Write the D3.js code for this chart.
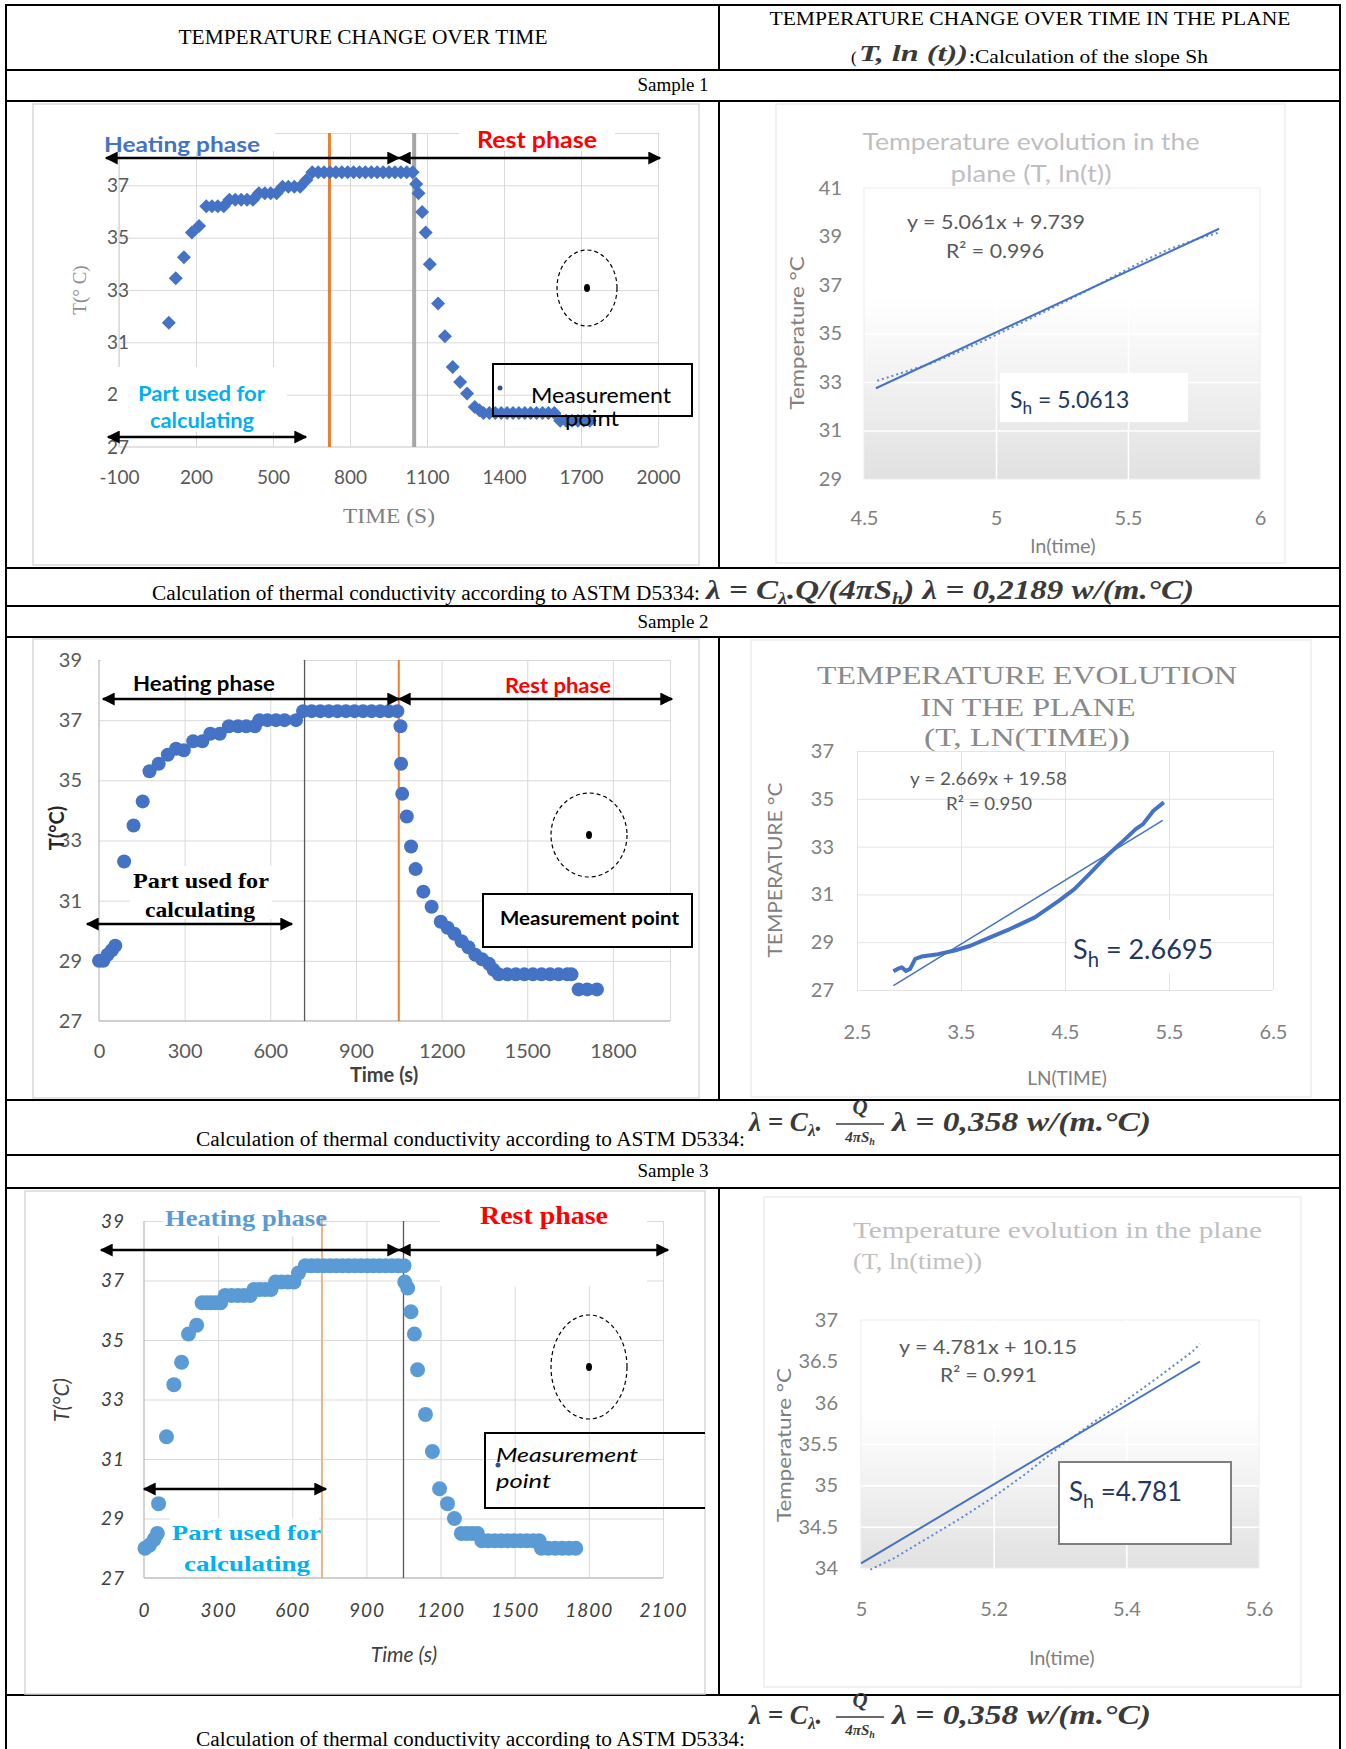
<!DOCTYPE html>
<html>
<head>
<meta charset="utf-8">
<script src="https://cdn.jsdelivr.net/npm/d3@7"></script>
<style>
  body { margin: 0; background: #fff; }
  svg { display: block; }
</style>
</head>
<body>
<script>
// ---------- data ----------
// Sample 1: temperature vs time (diamonds)
var s1Time = [94, 121, 153, 184, 212, 240, 262, 285, 308, 330, 353, 376, 399, 422, 445, 468, 491, 514,
  537, 560, 583, 606, 630, 653, 676, 699, 722, 745, 768, 791, 814, 837, 860, 883, 906, 929, 952, 975,
  998, 1021, 1044, 1058, 1067, 1081, 1095, 1111, 1143, 1170, 1200, 1229, 1256, 1286, 1304, 1320, 1343,
  1366, 1389, 1412, 1435, 1458, 1481, 1504, 1527, 1550, 1573, 1596, 1619, 1642, 1665, 1688, 1711, 1734];
var s1Temp = [31.75, 33.45, 34.25, 35.2, 35.45, 36.2, 36.2, 36.2, 36.2, 36.45, 36.45, 36.45, 36.45, 36.45,
  36.7, 36.7, 36.7, 36.7, 36.95, 36.95, 36.95, 36.95, 37.2, 37.5, 37.5, 37.5, 37.5, 37.5, 37.5, 37.5,
  37.5, 37.5, 37.5, 37.5, 37.5, 37.5, 37.5, 37.5, 37.5, 37.5, 37.5, 37.05, 36.7, 35.98, 35.2, 33.98,
  32.48, 31.23, 30.06, 29.48, 29.04, 28.53, 28.4, 28.3, 28.3, 28.3, 28.3, 28.3, 28.3, 28.3, 28.3, 28.3,
  28.3, 28.3, 28.3, 28.3, 28.0, 28.0, 28.0, 28.0, 28.0, 28.0];
var s1Phase = [720, 1050];
var s1XTicks = [-100, 200, 500, 800, 1100, 1400, 1700, 2000];
var s1YTicks = [27, 29, 31, 33, 35, 37, 39];
var s1YLabels = [27, 29, 31, 33, 35, 37];   // 39 is hidden behind the title box in the original

// Sample 1: T vs ln(t)
var s1LnTime = [4.55, 4.65, 4.75, 4.85, 4.95, 5.05, 5.15, 5.25, 5.35, 5.45, 5.55, 5.65, 5.75, 5.84];
var s1LnTemp = [33.05, 33.4, 33.75, 34.2, 34.68, 35.2, 35.72, 36.25, 36.8, 37.38, 37.95, 38.45, 38.85, 39.15];
var s1Fit = [5.061, 9.739];          // slope, intercept
var s1FitRange = [4.545, 5.845];
var s1LnXTicks = [4.5, 5, 5.5, 6];
var s1LnYTicks = [29, 31, 33, 35, 37, 39, 41];

// Sample 2: temperature vs time (circles)
var s2Time = [0, 15, 30, 45, 57, 88, 121, 153, 177, 209, 241, 270, 297, 330, 362, 390, 423, 455, 487, 516,
  546, 562, 590, 620, 650, 690, 715, 745, 775, 805, 835, 865, 895, 925, 955, 985, 1015, 1045, 1056, 1058,
  1062, 1078, 1093, 1109, 1136, 1165, 1197, 1221, 1245, 1270, 1294, 1318, 1342, 1366, 1382, 1400, 1430,
  1460, 1490, 1520, 1550, 1580, 1610, 1640, 1655, 1680, 1710, 1744];
var s2Temp = [29.0, 29.0, 29.2, 29.35, 29.5, 32.3, 33.5, 34.3, 35.3, 35.55, 35.85, 36.05, 36.0, 36.3, 36.3,
  36.55, 36.55, 36.8, 36.8, 36.8, 36.8, 37.0, 37.0, 37.0, 37.0, 37.0, 37.3, 37.3, 37.3, 37.3, 37.3, 37.3,
  37.3, 37.3, 37.3, 37.3, 37.3, 37.3, 36.8, 35.55, 34.55, 33.8, 32.8, 32.05, 31.3, 30.8, 30.3, 30.1, 29.9,
  29.65, 29.45, 29.2, 29.05, 28.9, 28.7, 28.55, 28.55, 28.55, 28.55, 28.55, 28.55, 28.55, 28.55, 28.55,
  28.55, 28.05, 28.05, 28.05];
var s2Phase = [720, 1050];
var s2XTicks = [0, 300, 600, 900, 1200, 1500, 1800];
var s2YTicks = [27, 29, 31, 33, 35, 37, 39];

// Sample 2: T vs ln(t)
var s2LnTime = [2.85, 2.89, 2.93, 2.97, 3.01, 3.06, 3.12, 3.28, 3.43, 3.59, 3.74, 3.97, 4.21, 4.44, 4.59,
  4.75, 4.90, 5.06, 5.18, 5.25, 5.35, 5.45];
var s2LnTemp = [27.78, 27.88, 27.95, 27.8, 27.88, 28.3, 28.4, 28.5, 28.64, 28.85, 29.13, 29.55, 30.04,
  30.73, 31.22, 31.92, 32.61, 33.24, 33.73, 33.94, 34.5, 34.85];
var s2Fit = [2.669, 19.58];
var s2FitRange = [2.85, 5.44];
var s2LnXTicks = [2.5, 3.5, 4.5, 5.5, 6.5];
var s2LnYTicks = [27, 29, 31, 33, 35, 37];

// Sample 3: temperature vs time (circles)
var s3Time = [4, 22, 41, 54, 59, 91, 121, 152, 180, 213, 235, 254, 272, 291, 310, 328, 354, 380, 405, 430,
  445, 468, 491, 514, 532, 557, 582, 607, 625, 653, 678, 703, 728, 753, 778, 803, 828, 853, 878, 903, 928,
  953, 978, 1003, 1028, 1052, 1055, 1067, 1080, 1094, 1107, 1139, 1167, 1196, 1228, 1256, 1284, 1306,
  1328, 1349, 1367, 1393, 1419, 1445, 1471, 1497, 1523, 1549, 1575, 1599, 1608, 1636, 1664, 1692, 1720, 1747];
var s3Temp = [28.0, 28.1, 28.3, 28.5, 29.5, 31.75, 33.5, 34.25, 35.2, 35.5, 36.25, 36.25, 36.25, 36.25,
  36.25, 36.5, 36.5, 36.5, 36.5, 36.5, 36.7, 36.7, 36.7, 36.7, 36.95, 36.95, 36.95, 36.95, 37.25, 37.5,
  37.5, 37.5, 37.5, 37.5, 37.5, 37.5, 37.5, 37.5, 37.5, 37.5, 37.5, 37.5, 37.5, 37.5, 37.5, 37.5, 36.95,
  36.75, 35.95, 35.2, 34.0, 32.5, 31.25, 30.0, 29.5, 29.0, 28.5, 28.5, 28.5, 28.5, 28.25, 28.25, 28.25,
  28.25, 28.25, 28.25, 28.25, 28.25, 28.25, 28.25, 28.0, 28.0, 28.0, 28.0, 28.0, 28.0];
var s3Phase = [720, 1050];
var s3XTicks = [0, 300, 600, 900, 1200, 1500, 1800, 2100];
var s3YTicks = [27, 29, 31, 33, 35, 37, 39];

// Sample 3: T vs ln(t)
var s3LnTime = [5.014, 5.05, 5.1, 5.15, 5.2, 5.25, 5.3, 5.35, 5.4, 5.45, 5.5, 5.511];
var s3LnTemp = [33.98, 34.12, 34.36, 34.6, 34.86, 35.15, 35.47, 35.76, 36.03, 36.32, 36.62, 36.71];
var s3Fit = [4.781, 10.15];
var s3FitRange = [5.0, 5.511];
var s3LnXTicks = [5, 5.2, 5.4, 5.6];
var s3LnYTicks = [34, 34.5, 35, 35.5, 36, 36.5, 37];

// ---------- drawing ----------
var SANS = "Lato, 'Open Sans', 'DejaVu Sans', sans-serif";
var SERIF = "'Liberation Serif', 'Times New Roman', serif";

var svg = d3.select('body').append('svg').attr('width', 1346).attr('height', 1749);
svg.append('rect').attr('width', 1346).attr('height', 1749).attr('fill', '#fff');

var defs = svg.append('defs');
defs.append('marker')
    .attr('id', 'ah')
    .attr('viewBox', '0 0 10 10')
    .attr('refX', 9).attr('refY', 5)
    .attr('markerWidth', 14).attr('markerHeight', 13)
    .attr('markerUnits', 'userSpaceOnUse')
    .attr('orient', 'auto-start-reverse')
  .append('path').attr('d', 'M0,0L10,5L0,10z').attr('fill', '#000');

var grad = defs.append('linearGradient').attr('id', 'plotFill')
    .attr('x1', 0).attr('y1', 0).attr('x2', 0).attr('y2', 1);
grad.append('stop').attr('offset', '0%').attr('stop-color', '#ffffff');
grad.append('stop').attr('offset', '38%').attr('stop-color', '#ffffff');
grad.append('stop').attr('offset', '100%').attr('stop-color', '#e1e1e1');

function addText(g, o) {
  var t = g.append('text')
      .attr('x', o.x).attr('y', o.y)
      .attr('font-family', o.font || SANS)
      .attr('font-size', o.fs)
      .attr('font-weight', o.bold ? 'bold' : 'normal')
      .attr('font-style', o.italic ? 'italic' : 'normal')
      .attr('fill', o.fill || '#000')
      .attr('text-anchor', o.anchor || 'start')
      .text(o.t);
  if (o.len) t.attr('textLength', o.len).attr('lengthAdjust', 'spacingAndGlyphs');
  if (o.rotate) t.attr('transform', 'rotate(-90,' + o.x + ',' + o.y + ')');
  return t;
}

function styleGrid(sel, color, w) {
  sel.select('.domain').remove();
  sel.selectAll('.tick line').attr('stroke', color).attr('stroke-width', w);
}

function styleLabels(sel, o) {
  sel.select('.domain').remove();
  sel.selectAll('text')
      .attr('font-family', o.font || SANS)
      .attr('font-size', o.fs)
      .attr('font-style', o.italic ? 'italic' : 'normal')
      .attr('letter-spacing', o.ls || 0)
      .attr('fill', o.fill);
}

function arrow(g, a) {
  g.append('line')
      .attr('x1', a[0]).attr('x2', a[1]).attr('y1', a[2]).attr('y2', a[2])
      .attr('stroke', '#000').attr('stroke-width', 2.5)
      .attr('marker-start', 'url(#ah)').attr('marker-end', 'url(#ah)');
}

function leftChart(c) {
  var g = svg.append('g');
  g.append('rect')
      .attr('x', c.panel[0]).attr('y', c.panel[1]).attr('width', c.panel[2]).attr('height', c.panel[3])
      .attr('fill', '#fff').attr('stroke', '#d9d9d9').attr('stroke-width', 1.5);

  var x = d3.scaleLinear().domain(c.xDomain).range(c.xRange);
  var y = d3.scaleLinear().domain(c.yDomain).range(c.yRange);
  var x0 = c.xRange[0], x1 = c.xRange[1], yb = c.yRange[0], yt = c.yRange[1];

  g.append('g').attr('transform', 'translate(0,' + yb + ')')
      .call(d3.axisBottom(x).tickValues(c.xGrid).tickSize(yt - yb).tickFormat(''))
      .call(styleGrid, '#d9d9d9', 1);
  g.append('g').attr('transform', 'translate(' + x0 + ',0)')
      .call(d3.axisLeft(y).tickValues(c.yGrid).tickSize(x0 - x1).tickFormat(''))
      .call(styleGrid, '#d9d9d9', 1);

  g.append('line').attr('x1', x0).attr('x2', x0).attr('y1', yt).attr('y2', yb)
      .attr('stroke', c.axisColor).attr('stroke-width', 1.3);
  g.append('line').attr('x1', x0).attr('x2', x1).attr('y1', yb).attr('y2', yb)
      .attr('stroke', c.axisColor).attr('stroke-width', 1.3);

  c.phaseStyle.forEach(function(p, i) {
    g.append('line')
        .attr('x1', x(c.phase[i])).attr('x2', x(c.phase[i]))
        .attr('y1', p.top || yt).attr('y2', yb)
        .attr('stroke', p.color).attr('stroke-width', p.w);
  });

  // tick labels
  g.append('g').attr('transform', 'translate(' + c.yLab.x + ',0)')
      .call(d3.axisLeft(y).tickValues(c.yTicks).tickSize(0).tickPadding(0).tickFormat(String))
      .call(styleLabels, c.yLab);
  g.append('g').attr('transform', 'translate(0,' + (c.xLab.y - 0.36 * c.xLab.fs) + ')')
      .call(d3.axisBottom(x).tickValues(c.xTicks).tickSize(0).tickPadding(0).tickFormat(String))
      .call(styleLabels, c.xLab);

  // white text boxes of the original figure
  c.boxes.forEach(function(b) {
    g.append('rect').attr('x', b[0]).attr('y', b[1]).attr('width', b[2]).attr('height', b[3]).attr('fill', '#fff');
  });

  var pts = c.time.map(function(t, i) { return [t, c.temp[i]]; });
  if (c.marker === 'diamond') {
    g.selectAll(null).data(pts).enter().append('path')
        .attr('d', 'M0,-7L7,0L0,7L-7,0Z')
        .attr('transform', function(d) { return 'translate(' + x(d[0]) + ',' + y(d[1]) + ')'; })
        .attr('fill', c.markerColor);
  } else {
    g.selectAll(null).data(pts).enter().append('circle')
        .attr('cx', function(d) { return x(d[0]); })
        .attr('cy', function(d) { return y(d[1]); })
        .attr('r', c.r)
        .attr('fill', c.markerColor);
  }

  c.arrows.forEach(function(a) { arrow(g, a); });

  var m = c.mbox;
  if (c.mboxOpen) {
    // box runs off the right edge of the panel in the original
    g.append('path')
        .attr('d', 'M' + (m[0] + m[2]) + ',' + m[1] + 'H' + m[0] + 'V' + (m[1] + m[3]) + 'H' + (m[0] + m[2]))
        .attr('fill', 'none').attr('stroke', '#000').attr('stroke-width', 2);
  } else {
    g.append('rect').attr('x', m[0]).attr('y', m[1]).attr('width', m[2]).attr('height', m[3])
        .attr('fill', c.mboxFill).attr('stroke', '#000').attr('stroke-width', 2);
  }
  if (c.mdot) {
    g.append('circle').attr('cx', c.mdot[0]).attr('cy', c.mdot[1]).attr('r', 2.5).attr('fill', '#2f4f8f');
  }

  var e = c.ellipse;
  g.append('ellipse').attr('cx', e[0]).attr('cy', e[1]).attr('rx', e[2]).attr('ry', e[3])
      .attr('fill', 'none').attr('stroke', '#000').attr('stroke-width', 1.2).attr('stroke-dasharray', '4,3');
  g.append('ellipse').attr('cx', e[0]).attr('cy', e[1]).attr('rx', 3).attr('ry', 4).attr('fill', '#000');

  c.texts.forEach(function(o) { addText(g, o); });
}

function rightChart(c) {
  var g = svg.append('g');
  g.append('rect')
      .attr('x', c.panel[0]).attr('y', c.panel[1]).attr('width', c.panel[2]).attr('height', c.panel[3])
      .attr('fill', '#fff').attr('stroke', '#ededed').attr('stroke-width', 1.5);

  var x = d3.scaleLinear().domain(c.xDomain).range(c.xRange);
  var y = d3.scaleLinear().domain(c.yDomain).range(c.yRange);
  var x0 = c.xRange[0], x1 = c.xRange[1], yb = c.yRange[0], yt = c.yRange[1];

  g.append('rect').attr('x', x0).attr('y', yt).attr('width', x1 - x0).attr('height', yb - yt)
      .attr('fill', c.gradient ? 'url(#plotFill)' : '#fff')
      .attr('stroke', c.gradient ? '#ececec' : 'none');

  g.append('g').attr('transform', 'translate(0,' + yb + ')')
      .call(d3.axisBottom(x).tickValues(c.xGrid).tickSize(yt - yb).tickFormat(''))
      .call(styleGrid, c.gridColor, c.gridW);
  g.append('g').attr('transform', 'translate(' + x0 + ',0)')
      .call(d3.axisLeft(y).tickValues(c.yGrid).tickSize(x0 - x1).tickFormat(''))
      .call(styleGrid, c.gridColor, c.gridW);

  g.append('g').attr('transform', 'translate(' + c.yLab.x + ',0)')
      .call(d3.axisLeft(y).tickValues(c.yTicks).tickSize(0).tickPadding(0).tickFormat(String))
      .call(styleLabels, c.yLab);
  g.append('g').attr('transform', 'translate(0,' + (c.xLab.y - 0.36 * c.xLab.fs) + ')')
      .call(d3.axisBottom(x).tickValues(c.xTicks).tickSize(0).tickPadding(0).tickFormat(String))
      .call(styleLabels, c.xLab);

  var pts = c.lnTime.map(function(t, i) { return [t, c.lnTemp[i]]; });
  var line = d3.line().x(function(d) { return x(d[0]); }).y(function(d) { return y(d[1]); });
  g.append('path').datum(pts)
      .attr('d', line).attr('fill', 'none')
      .attr('stroke', c.dataStyle.color).attr('stroke-width', c.dataStyle.w)
      .attr('stroke-dasharray', c.dataStyle.dash || null)
      .attr('stroke-linejoin', 'round');

  var fitPts = c.fitRange.map(function(v) { return [v, c.fit[0] * v + c.fit[1]]; });
  g.append('path').datum(fitPts)
      .attr('d', line).attr('fill', 'none')
      .attr('stroke', '#4472C4').attr('stroke-width', c.fitW);

  c.texts.forEach(function(o) { addText(g, o); });

  var b = c.shBox;
  g.append('rect').attr('x', b[0]).attr('y', b[1]).attr('width', b[2]).attr('height', b[3])
      .attr('fill', '#fff').attr('stroke', c.shStroke || 'none').attr('stroke-width', 2);
  var sh = g.append('text').attr('x', c.sh.x).attr('y', c.sh.y)
      .attr('font-family', SANS).attr('font-size', c.sh.fs).attr('fill', '#1F3864');
  sh.append('tspan').text('S');
  sh.append('tspan').attr('dy', c.sh.fs * 0.28).attr('font-size', c.sh.fs * 0.75).text('h');
  sh.append('tspan').attr('dy', -c.sh.fs * 0.28).text(c.sh.value);
}

// ---------- table frame ----------
var frame = svg.append('g').attr('stroke', '#000').attr('stroke-width', 2);
[5, 70, 101, 568, 606, 637, 1100, 1155, 1188, 1695].forEach(function(yy) {
  frame.append('line').attr('x1', 5).attr('x2', 1341).attr('y1', yy).attr('y2', yy);
});
frame.append('line').attr('x1', 6).attr('x2', 6).attr('y1', 5).attr('y2', 1749);
frame.append('line').attr('x1', 1340).attr('x2', 1340).attr('y1', 5).attr('y2', 1749);
[[5, 70], [101, 568], [637, 1100], [1188, 1695]].forEach(function(s) {
  frame.append('line').attr('x1', 719).attr('x2', 719).attr('y1', s[0]).attr('y2', s[1]);
});

var hdr = svg.append('g');
addText(hdr, {t: 'TEMPERATURE CHANGE OVER TIME', x: 363, y: 44, fs: 20, font: SERIF, anchor: 'middle', len: 369});
addText(hdr, {t: 'TEMPERATURE CHANGE OVER TIME IN THE PLANE', x: 1030, y: 25, fs: 19, font: SERIF, anchor: 'middle', len: 521});
addText(hdr, {t: '(', x: 851, y: 63, fs: 17, font: SERIF});
addText(hdr, {t: 'T, ln (t))', x: 859, y: 61, fs: 24, font: SERIF, bold: true, italic: true, fill: '#3a3a3a', len: 109});
addText(hdr, {t: ':Calculation of the slope Sh', x: 969, y: 63, fs: 18, font: SERIF, len: 239});
addText(hdr, {t: 'Sample 1', x: 673, y: 91, fs: 19, font: SERIF, anchor: 'middle'});
addText(hdr, {t: 'Sample 2', x: 673, y: 628, fs: 19, font: SERIF, anchor: 'middle'});
addText(hdr, {t: 'Sample 3', x: 673, y: 1177, fs: 19, font: SERIF, anchor: 'middle'});

// formula rows
function formulaInline(g, x, y) {
  var t = g.append('text').attr('x', x).attr('y', y).attr('font-family', SERIF).attr('font-size', 28)
      .attr('font-weight', 'bold').attr('font-style', 'italic').attr('fill', '#3a3a3a')
      .attr('textLength', 488).attr('lengthAdjust', 'spacingAndGlyphs');
  t.append('tspan').text('λ = C');
  t.append('tspan').attr('dy', 5).attr('font-size', 17).text('λ');
  t.append('tspan').attr('dy', -5).text('.Q/(4πS');
  t.append('tspan').attr('dy', 5).attr('font-size', 17).text('h');
  t.append('tspan').attr('dy', -5).text(')  λ = 0,2189 w/(m.°C)');
}
function formulaFrac(g, x, y) {
  var t = g.append('text').attr('x', x).attr('y', y).attr('font-family', SERIF).attr('font-size', 27)
      .attr('font-weight', 'bold').attr('font-style', 'italic').attr('fill', '#3a3a3a');
  t.append('tspan').text('λ = C');
  t.append('tspan').attr('dy', 5).attr('font-size', 17).text('λ');
  t.append('tspan').attr('dy', -5).text('.');
  addText(g, {t: 'Q', x: x + 111, y: y - 17, fs: 21, font: SERIF, bold: true, italic: true, fill: '#3a3a3a', anchor: 'middle'});
  g.append('line').attr('x1', x + 87).attr('x2', x + 135).attr('y1', y - 7).attr('y2', y - 7)
      .attr('stroke', '#3a3a3a').attr('stroke-width', 1.5);
  var d = g.append('text').attr('x', x + 111).attr('y', y + 11).attr('font-family', SERIF).attr('font-size', 15)
      .attr('font-weight', 'bold').attr('font-style', 'italic').attr('fill', '#3a3a3a').attr('text-anchor', 'middle');
  d.append('tspan').text('4πS');
  d.append('tspan').attr('dy', 3).attr('font-size', 10).text('h');
  addText(g, {t: 'λ = 0,358 w/(m.°C)', x: x + 143, y: y, fs: 27, font: SERIF, bold: true, italic: true, fill: '#3a3a3a', len: 259});
}
var calcText = 'Calculation of thermal conductivity according to ASTM D5334:';
addText(hdr, {t: calcText, x: 152, y: 600, fs: 20, font: SERIF, len: 548});
formulaInline(hdr, 706, 599);
addText(hdr, {t: calcText, x: 196, y: 1146, fs: 20, font: SERIF, len: 549});
formulaFrac(hdr, 749, 1131);
addText(hdr, {t: calcText, x: 196, y: 1746, fs: 20, font: SERIF, len: 549});
formulaFrac(hdr, 749, 1724);

// ---------- sample 1 ----------
leftChart({
  panel: [33, 104, 666, 461],
  xDomain: [-100, 2000], xRange: [119, 658],
  yDomain: [27, 39], yRange: [447, 133],
  xTicks: s1XTicks, yTicks: s1YLabels,
  xGrid: s1XTicks, yGrid: s1YTicks.slice(1),
  axisColor: '#d9d9d9',
  phase: s1Phase,
  phaseStyle: [{color: '#ED7D31', w: 3}, {color: '#A5A5A5', w: 4}],
  yLab: {x: 129, fs: 19, fill: '#595959'},
  xLab: {y: 477, fs: 19, fill: '#595959'},
  boxes: [[100, 118, 175, 33], [459, 118, 156, 33], [118, 367, 169, 65]],
  time: s1Time, temp: s1Temp, marker: 'diamond', markerColor: '#4472C4',
  arrows: [[106, 399, 158], [399, 660, 158], [108, 306, 437]],
  mbox: [493, 364, 199, 52], mboxFill: 'none', mdot: [500, 388],
  ellipse: [587, 288, 30, 38],
  texts: [
    {t: 'T(° C)', x: 86, y: 290, fs: 19, font: SERIF, fill: '#8c8c8c', anchor: 'middle', rotate: true},
    {t: 'TIME (S)', x: 389, y: 523, fs: 22, font: SERIF, fill: '#7f7f7f', anchor: 'middle', len: 92},
    {t: 'Heating phase', x: 104, y: 152, fs: 21, bold: true, fill: '#4472C4', len: 156},
    {t: 'Rest phase', x: 477, y: 148, fs: 22, bold: true, fill: '#FF0000', len: 120},
    {t: 'Part used for', x: 138, y: 401, fs: 20, bold: true, fill: '#00B0F0', len: 127},
    {t: 'calculating', x: 150, y: 428, fs: 20, bold: true, fill: '#00B0F0', len: 104},
    {t: 'Measurement', x: 531, y: 403, fs: 21, fill: '#000', len: 140},
    {t: 'point', x: 565, y: 426, fs: 21, fill: '#000', len: 54}
  ]
});

rightChart({
  panel: [776, 104, 509, 459],
  xDomain: [4.5, 6], xRange: [864, 1260],
  yDomain: [29, 41], yRange: [479, 188],
  gradient: true, gridColor: '#ffffff', gridW: 1.5,
  xGrid: [5, 5.5], yGrid: [31, 33, 35, 37, 39],
  xTicks: s1LnXTicks, yTicks: s1LnYTicks,
  yLab: {x: 842, fs: 20, fill: '#808080'},
  xLab: {y: 518, fs: 20, fill: '#808080'},
  lnTime: s1LnTime, lnTemp: s1LnTemp,
  dataStyle: {color: '#5f87d6', w: 2, dash: '2,3'},
  fit: s1Fit, fitRange: s1FitRange, fitW: 2,
  texts: [
    {t: 'Temperature evolution in the', x: 1031, y: 150, fs: 23, fill: '#BFBFBF', anchor: 'middle', len: 337},
    {t: 'plane (T, ln(t))', x: 1031, y: 182, fs: 23, fill: '#BFBFBF', anchor: 'middle', len: 161},
    {t: 'ln(time)', x: 1063, y: 553, fs: 20, fill: '#808080', anchor: 'middle'},
    {t: 'Temperature °C', x: 804, y: 333, fs: 20, fill: '#808080', anchor: 'middle', rotate: true, len: 153},
    {t: 'y = 5.061x + 9.739', x: 907, y: 229, fs: 20, fill: '#595959', len: 178},
    {t: 'R² = 0.996', x: 946, y: 258, fs: 20, fill: '#595959', len: 98}
  ],
  shBox: [1000, 373, 188, 49],
  sh: {x: 1010, y: 408, fs: 23, value: ' = 5.0613'}
});

// ---------- sample 2 ----------
leftChart({
  panel: [33, 639, 666, 459],
  xDomain: [0, 2000], xRange: [99, 670],
  yDomain: [27, 39], yRange: [1021, 660],
  xTicks: s2XTicks, yTicks: s2YTicks,
  xGrid: s2XTicks.slice(1).concat([2000]), yGrid: s2YTicks.slice(1),
  axisColor: '#bfbfbf',
  phase: s2Phase,
  phaseStyle: [{color: '#595959', w: 1.3}, {color: '#ED7D31', w: 2}],
  yLab: {x: 82, fs: 20, fill: '#595959'},
  xLab: {y: 1051, fs: 20, fill: '#595959'},
  boxes: [[101, 646, 202, 46], [130, 866, 142, 53]],
  time: s2Time, temp: s2Temp, marker: 'circle', r: 7, markerColor: '#4472C4',
  arrows: [[103, 399, 699], [399, 672, 699], [87, 292, 924]],
  mbox: [483, 894, 209, 53], mboxFill: '#fff',
  ellipse: [589, 835, 38, 42],
  texts: [
    {t: 'T(°C)', x: 64, y: 828, fs: 20, bold: true, fill: '#262626', anchor: 'middle', rotate: true},
    {t: 'Time (s)', x: 384, y: 1082, fs: 20, bold: true, fill: '#404040', anchor: 'middle'},
    {t: 'Heating phase', x: 133, y: 691, fs: 21, bold: true, fill: '#000', len: 142},
    {t: 'Rest phase', x: 505, y: 693, fs: 21, bold: true, fill: '#FF0000', len: 106},
    {t: 'Part used for', x: 133, y: 888, fs: 22, bold: true, font: SERIF, fill: '#000', len: 136},
    {t: 'calculating', x: 145, y: 917, fs: 22, bold: true, font: SERIF, fill: '#000', len: 110},
    {t: 'Measurement point', x: 500, y: 925, fs: 18, bold: true, fill: '#000', len: 179}
  ]
});

rightChart({
  panel: [751, 640, 560, 457],
  xDomain: [2.5, 6.5], xRange: [857, 1273],
  yDomain: [27, 37], yRange: [990, 751],
  gradient: false, gridColor: '#e3e3e3', gridW: 1,
  xGrid: s2LnXTicks, yGrid: s2LnYTicks,
  xTicks: s2LnXTicks, yTicks: s2LnYTicks,
  yLab: {x: 834, fs: 20, fill: '#808080'},
  xLab: {y: 1032, fs: 20, fill: '#808080'},
  lnTime: s2LnTime, lnTemp: s2LnTemp,
  dataStyle: {color: '#4472C4', w: 4},
  fit: s2Fit, fitRange: s2FitRange, fitW: 1.5,
  texts: [
    {t: 'TEMPERATURE EVOLUTION', x: 1027, y: 684, fs: 26, font: SERIF, fill: '#8a8a8a', anchor: 'middle', len: 420},
    {t: 'IN THE PLANE', x: 1028, y: 716, fs: 26, font: SERIF, fill: '#8a8a8a', anchor: 'middle', len: 215},
    {t: '(T, LN(TIME))', x: 1027, y: 746, fs: 26, font: SERIF, fill: '#8a8a8a', anchor: 'middle', len: 206},
    {t: 'LN(TIME)', x: 1067, y: 1085, fs: 19, fill: '#808080', anchor: 'middle'},
    {t: 'TEMPERATURE °C', x: 782, y: 870, fs: 19, fill: '#808080', anchor: 'middle', rotate: true, len: 175},
    {t: 'y = 2.669x + 19.58', x: 910, y: 785, fs: 18, fill: '#595959', len: 157},
    {t: 'R² = 0.950', x: 946, y: 810, fs: 18, fill: '#595959', len: 86}
  ],
  shBox: [1067, 920, 141, 53],
  sh: {x: 1073, y: 959, fs: 27, value: ' = 2.6695'}
});

// ---------- sample 3 ----------
leftChart({
  panel: [25, 1191, 680, 503],
  xDomain: [0, 2100], xRange: [144, 663],
  yDomain: [27, 39], yRange: [1578, 1221],
  xTicks: s3XTicks, yTicks: s3YTicks,
  xGrid: s3XTicks.slice(1), yGrid: s3YTicks.slice(1),
  axisColor: '#bfbfbf',
  phase: s3Phase,
  phaseStyle: [{color: '#F4B183', w: 2, top: 1216}, {color: '#595959', w: 1.3}],
  yLab: {x: 125, fs: 19, fill: '#404040', italic: true, ls: 1},
  xLab: {y: 1610, fs: 19, fill: '#404040', italic: true, ls: 1},
  boxes: [[163, 1199, 155, 37], [440, 1192, 207, 94], [170, 1518, 149, 57]],
  time: s3Time, temp: s3Temp, marker: 'circle', r: 7.5, markerColor: '#5B9BD5',
  arrows: [[101, 399, 1250], [399, 668, 1250], [144, 326, 1489]],
  mbox: [485, 1433, 220, 75], mboxOpen: true, mdot: [498, 1465],
  ellipse: [589, 1367, 38, 52],
  texts: [
    {t: 'T(°C)', x: 69, y: 1400, fs: 21, italic: true, fill: '#404040', anchor: 'middle', rotate: true},
    {t: 'Time (s)', x: 404, y: 1662, fs: 21, italic: true, fill: '#404040', anchor: 'middle'},
    {t: 'Heating phase', x: 165, y: 1226, fs: 24, bold: true, font: SERIF, fill: '#5B9BD5', len: 162},
    {t: 'Rest phase', x: 480, y: 1224, fs: 26, bold: true, font: SERIF, fill: '#FF0000', len: 128},
    {t: 'Part used for', x: 172, y: 1540, fs: 22, bold: true, font: SERIF, fill: '#00B0F0', len: 149},
    {t: 'calculating', x: 184, y: 1571, fs: 22, bold: true, font: SERIF, fill: '#00B0F0', len: 126},
    {t: 'Measurement', x: 496, y: 1462, fs: 19, italic: true, fill: '#000', len: 142},
    {t: 'point', x: 496, y: 1488, fs: 19, italic: true, fill: '#000', len: 55}
  ]
});

rightChart({
  panel: [764, 1197, 537, 490],
  xDomain: [5, 5.6], xRange: [861, 1259],
  yDomain: [34, 37], yRange: [1568, 1320],
  gradient: true, gridColor: '#ffffff', gridW: 1.5,
  xGrid: [5.2, 5.4], yGrid: [34.5, 35, 35.5, 36, 36.5],
  xTicks: s3LnXTicks, yTicks: s3LnYTicks,
  yLab: {x: 838, fs: 20, fill: '#808080'},
  xLab: {y: 1609, fs: 20, fill: '#808080'},
  lnTime: s3LnTime, lnTemp: s3LnTemp,
  dataStyle: {color: '#5f87d6', w: 2, dash: '2,3'},
  fit: s3Fit, fitRange: s3FitRange, fitW: 2,
  texts: [
    {t: 'Temperature evolution in the plane', x: 853, y: 1238, fs: 24, font: SERIF, fill: '#BFBFBF', len: 409},
    {t: '(T, ln(time))', x: 853, y: 1269, fs: 24, font: SERIF, fill: '#BFBFBF', len: 129},
    {t: 'ln(time)', x: 1062, y: 1665, fs: 20, fill: '#808080', anchor: 'middle'},
    {t: 'Temperature °C', x: 791, y: 1445, fs: 20, fill: '#808080', anchor: 'middle', rotate: true, len: 154},
    {t: 'y = 4.781x + 10.15', x: 899, y: 1354, fs: 20, fill: '#595959', len: 178},
    {t: 'R² = 0.991', x: 940, y: 1382, fs: 20, fill: '#595959', len: 97}
  ],
  shBox: [1059, 1462, 172, 82], shStroke: '#7f7f7f',
  sh: {x: 1069, y: 1501, fs: 26, value: '  =4.781'}
});
</script>
</body>
</html>
